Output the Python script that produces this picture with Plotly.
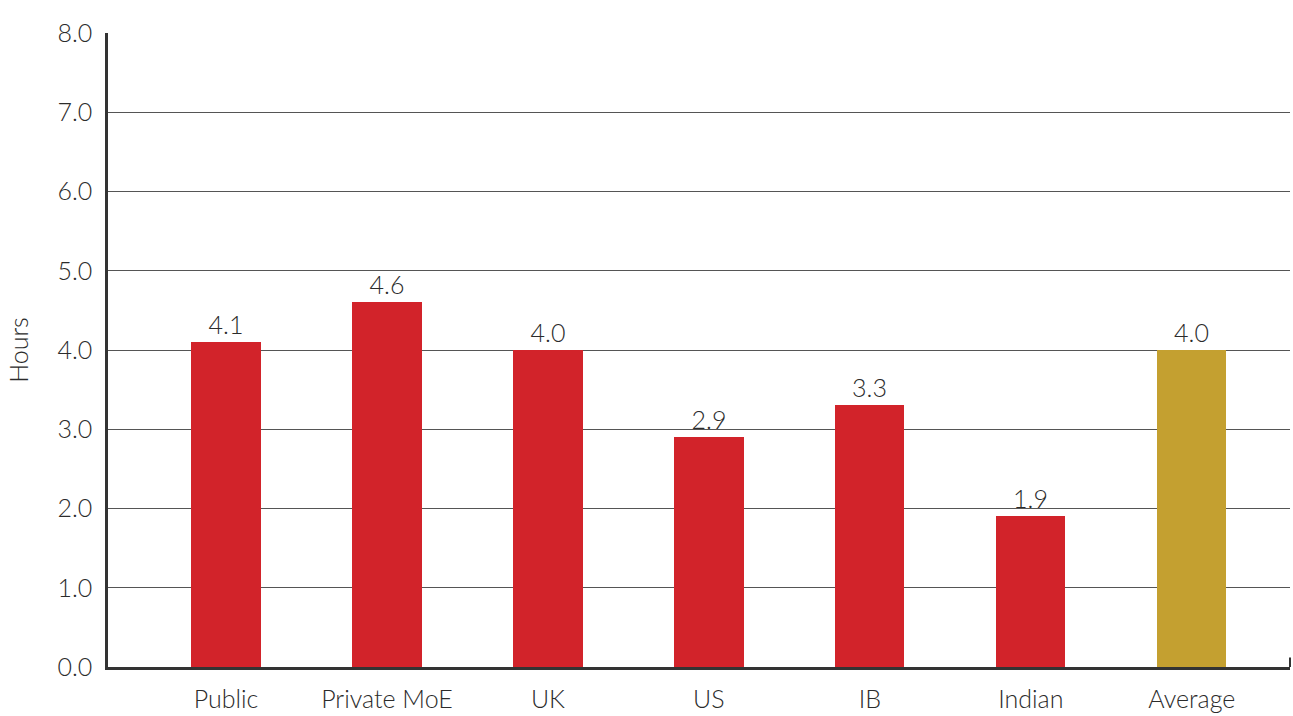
import plotly.graph_objects as go

categories = ["Public", "Private MoE", "UK", "US", "IB", "Indian", "Average"]
hours = [4.1, 4.6, 4.0, 2.9, 3.3, 1.9, 4.0]
labels = ["4.1", "4.6", "4.0", "2.9", "3.3", "1.9", "4.0"]
colors = ["#D2232A"] * 6 + ["#C4A030"]
y_ticks = [0, 1, 2, 3, 4, 5, 6, 7, 8]
y_tick_text = ["0.0", "1.0", "2.0", "3.0", "4.0", "5.0", "6.0", "7.0", "8.0"]

FONT = "Lato"
TEXT = "#2b2b2b"
FS = 25

fig = go.Figure(
    go.Bar(
        x=list(range(len(categories))),
        y=hours,
        marker=dict(color=colors, line=dict(width=0)),
        width=0.43,
        text=labels,
        textposition="outside",
        textfont=dict(family=FONT, size=FS, color=TEXT, weight=300),
        cliponaxis=False,
    )
)

fig.update_layout(
    width=1293,
    height=716,
    margin=dict(l=108, r=3, t=33, b=49),
    plot_bgcolor="white",
    paper_bgcolor="white",
    showlegend=False,
    bargap=0,
    font=dict(family=FONT, color=TEXT, weight=300),
)

fig.update_xaxes(
    range=[-0.733, 6.61],
    tickmode="array",
    tickvals=list(range(len(categories))),
    ticktext=categories,
    tickfont=dict(family=FONT, size=FS, color=TEXT, weight=300),
    showgrid=False,
    showline=True,
    linecolor="#333333",
    linewidth=2.5,
    ticks="",
    ticklabelstandoff=8,
    zeroline=False,
    automargin=False,
)

fig.update_yaxes(
    range=[0, 8],
    tickmode="array",
    tickvals=y_ticks,
    ticktext=y_tick_text,
    tickfont=dict(family=FONT, size=FS, color=TEXT, weight=300),
    showgrid=True,
    gridcolor="#555555",
    gridwidth=1,
    showline=True,
    linecolor="#333333",
    linewidth=2.5,
    ticks="",
    ticklabelstandoff=8,
    zeroline=False,
    automargin=False,
    title=dict(text="Hours", font=dict(family=FONT, size=FS, color=TEXT, weight=300), standoff=22),
)

# small end tick on the right of the baseline
fig.add_shape(
    type="line", xref="paper", yref="paper",
    x0=1, x1=1, y0=0, y1=0.015,
    line=dict(color="#333333", width=2),
)

fig.write_html("out.html")
